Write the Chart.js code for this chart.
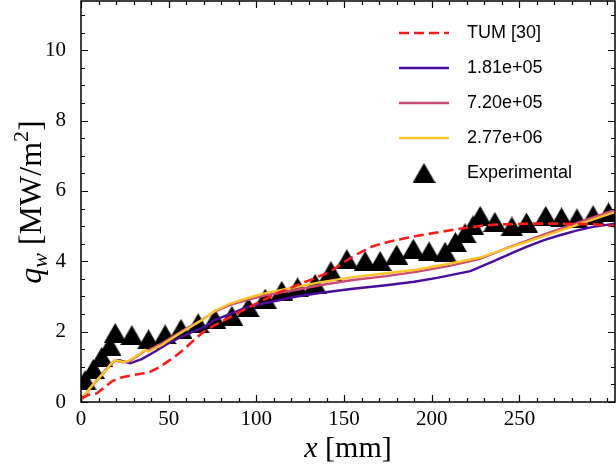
<!DOCTYPE html>
<html>
<head>
<meta charset="utf-8">
<script src="https://cdn.jsdelivr.net/npm/chart.js@4.4.0/dist/chart.umd.min.js"></script>
<style>
  html, body { margin: 0; padding: 0; background: #fff; }
</style>
</head>
<body>
<canvas id="myChart" width="616" height="467"></canvas>
<script>
// wall heat flux along x, TUM reference + 3 grid levels + experiment
const tumX = [0, 4, 9, 13, 17.5, 21, 25, 30, 35, 39.5, 45, 50, 54, 58, 62, 66, 70, 75, 80, 87, 94.5, 104, 113.5, 123, 132.5, 142, 150, 158, 166, 175, 184, 193.5, 203, 212.5, 222, 235, 254, 273, 292, 304.5];
const tumY = [0.1, 0.2, 0.25, 0.4, 0.58, 0.67, 0.72, 0.77, 0.81, 0.86, 1.0, 1.17, 1.31, 1.47, 1.65, 1.83, 2.0, 2.15, 2.28, 2.47, 2.66, 2.9, 3.12, 3.32, 3.5, 3.7, 3.98, 4.22, 4.42, 4.55, 4.65, 4.74, 4.82, 4.9, 4.97, 5.04, 5.07, 5.07, 5.05, 5.0];

const lowX = [0, 5, 10, 15.6, 19.4, 22, 28, 34.6, 42, 50, 57, 65, 71, 76, 85, 94.5, 104, 113.5, 123, 136, 155, 174, 190, 203, 222, 235, 245, 254, 264, 273, 283, 292, 304.5];
const lowY = [0.05, 0.38, 0.68, 1.0, 1.19, 1.19, 1.1, 1.22, 1.43, 1.67, 1.85, 2.02, 2.15, 2.33, 2.5, 2.7, 2.8, 2.9, 3.0, 3.1, 3.22, 3.32, 3.42, 3.53, 3.72, 4.0, 4.22, 4.41, 4.6, 4.74, 4.88, 4.98, 5.07];

const gridX = [0, 5, 11.8, 16.5, 19.4, 24, 27, 32.7, 36.5, 38.4, 46, 53.6, 61, 69, 76, 85, 94.5, 104, 113.5, 123, 136, 155, 174, 191, 210, 227, 245, 265, 285, 304.5];
const midY = [0.05, 0.38, 0.76, 1.04, 1.18, 1.13, 1.14, 1.32, 1.46, 1.47, 1.66, 1.9, 2.12, 2.34, 2.56, 2.76, 2.9, 3.02, 3.11, 3.19, 3.32, 3.47, 3.58, 3.7, 3.87, 4.06, 4.42, 4.78, 5.13, 5.46];
const highY = [0.05, 0.39, 0.77, 1.05, 1.19, 1.14, 1.17, 1.34, 1.48, 1.43, 1.62, 1.86, 2.09, 2.33, 2.58, 2.8, 2.95, 3.08, 3.18, 3.27, 3.4, 3.55, 3.66, 3.76, 3.93, 4.1, 4.4, 4.73, 5.07, 5.4];

const expX = [2.3, 7, 11.8, 16.5, 19.5, 29, 38.5, 48, 57, 66.8, 76.4, 86, 95.4, 105, 114.5, 123.5, 133.5, 142.5, 151.6, 162, 170.6, 180, 189.5, 198.5, 207.6, 213.5, 219, 223.5, 227.6, 236, 245.7, 254, 265, 274, 282.8, 292, 300.8];
const expY = [0.62, 0.94, 1.28, 1.6, 1.96, 1.9, 1.78, 1.92, 2.08, 2.24, 2.36, 2.45, 2.69, 2.94, 3.16, 3.26, 3.36, 3.72, 4.06, 4.01, 4.01, 4.19, 4.36, 4.28, 4.27, 4.55, 4.8, 5.02, 5.29, 5.12, 4.99, 5.1, 5.29, 5.25, 5.22, 5.31, 5.39];

const labels = ["TUM [30]", "1.81e+05", "7.20e+05", "2.77e+06", "Experimental"];
const xMajor = [0, 50, 100, 150, 200, 250];
const yMajor = [0, 2, 4, 6, 8, 10];

function pts(xs, ys) {
    return xs.map((x, i) => ({ x: x, y: ys[i] }));
}

// matplotlib style "^" marker, centred on the point
const tri = document.createElement("canvas");
tri.width = 23;
tri.height = 20;
const tc = tri.getContext("2d");
tc.fillStyle = "#000";
tc.beginPath();
tc.moveTo(11.5, 0);
tc.lineTo(23, 20);
tc.lineTo(0, 20);
tc.closePath();
tc.fill();

const serif = "'Liberation Serif', 'DejaVu Serif', serif";
const sans = "'Liberation Sans', 'DejaVu Sans', sans-serif";

// ticks pointing inwards on all four sides + the frame
const frameTicks = {
    id: "frameTicks",
    afterDraw(chart) {
        const ctx = chart.ctx;
        const a = chart.chartArea;
        const x = chart.scales.x;
        const y = chart.scales.y;
        ctx.save();
        ctx.strokeStyle = "#000";
        ctx.lineWidth = 1.2;
        ctx.beginPath();
        x.ticks.forEach(t => {
            if (Math.abs(t.value / 10 - Math.round(t.value / 10)) > 1e-6) return;
            const px = Math.round(x.getPixelForValue(t.value)) + 0.5;
            const len = xMajor.includes(t.value) ? 7 : 4;
            ctx.moveTo(px, a.bottom); ctx.lineTo(px, a.bottom - len);
            ctx.moveTo(px, a.top); ctx.lineTo(px, a.top + len);
        });
        y.ticks.forEach(t => {
            if (Math.abs(t.value * 2 - Math.round(t.value * 2)) > 1e-6) return;
            const py = Math.round(y.getPixelForValue(t.value)) + 0.5;
            const len = yMajor.includes(t.value) ? 7 : 4;
            ctx.moveTo(a.left, py); ctx.lineTo(a.left + len, py);
            ctx.moveTo(a.right, py); ctx.lineTo(a.right - len, py);
        });
        ctx.stroke();
        ctx.lineWidth = 1.5;
        ctx.strokeRect(a.left, a.top, a.right - a.left, a.bottom - a.top);
        ctx.restore();
    }
};

// axis titles with italic symbols, sub- and superscript
const axisTitles = {
    id: "axisTitles",
    afterDraw(chart) {
        const ctx = chart.ctx;
        const a = chart.chartArea;
        ctx.save();
        ctx.fillStyle = "#000";
        ctx.textBaseline = "alphabetic";

        // x [mm]
        let big = "30px " + serif;
        let bigI = "italic 30px " + serif;
        ctx.font = bigI;
        const w1 = ctx.measureText("x").width;
        ctx.font = big;
        const w2 = ctx.measureText(" [mm]").width;
        let sx = (a.left + a.right) / 2 - (w1 + w2) / 2;
        ctx.font = bigI;
        ctx.fillText("x", sx, 457);
        ctx.font = big;
        ctx.fillText(" [mm]", sx + w1, 457);

        // q_w [MW/m^2]
        big = "32px " + serif;
        bigI = "italic 32px " + serif;
        const small = "22px " + serif;
        const smallI = "italic 22px " + serif;
        const parts = [
            { t: "q", f: bigI, dy: 0 },
            { t: "w", f: smallI, dy: 6 },
            { t: " [MW/m", f: big, dy: 0 },
            { t: "2", f: small, dy: -13 },
            { t: "]", f: big, dy: 0 }
        ];
        let total = 0;
        parts.forEach(p => { ctx.font = p.f; p.w = ctx.measureText(p.t).width; total += p.w; });
        ctx.translate(41, 202);
        ctx.rotate(-Math.PI / 2);
        let cx = -total / 2;
        parts.forEach(p => {
            ctx.font = p.f;
            ctx.fillText(p.t, cx, p.dy);
            cx += p.w;
        });
        ctx.restore();
    }
};

// frameless legend in the upper right corner
const cornerLegend = {
    id: "cornerLegend",
    afterDraw(chart) {
        const ctx = chart.ctx;
        const ds = chart.data.datasets;
        ctx.save();
        ctx.font = "18px " + sans;
        ctx.textBaseline = "middle";
        ctx.fillStyle = "#000";
        ds.forEach((d, row) => {
            const yy = 33 + row * 35;
            if (d.showLine) {
                ctx.strokeStyle = d.borderColor;
                ctx.lineWidth = d.borderWidth;
                ctx.setLineDash(d.borderDash || []);
                ctx.beginPath();
                ctx.moveTo(399, yy);
                ctx.lineTo(449, yy);
                ctx.stroke();
                ctx.setLineDash([]);
            } else {
                ctx.drawImage(tri, 424 - tri.width / 2, yy - tri.height / 2);
            }
            ctx.fillText(d.label, 467, yy);
        });
        ctx.restore();
    }
};

const ctx = document.getElementById("myChart").getContext("2d");
const myChart = new Chart(ctx, {
    type: "scatter",
    data: {
        datasets: [
            {
                label: labels[0],
                data: pts(tumX, tumY),
                showLine: true,
                borderColor: "#ff1a1a",
                borderWidth: 2.6,
                borderDash: [10, 5],
                pointRadius: 0,
                order: 1
            },
            {
                label: labels[1],
                data: pts(lowX, lowY),
                showLine: true,
                borderColor: "#4a0c9e",
                borderWidth: 2.4,
                pointRadius: 0,
                order: 4
            },
            {
                label: labels[2],
                data: pts(gridX, midY),
                showLine: true,
                borderColor: "#cc4a78",
                borderWidth: 2.4,
                pointRadius: 0,
                order: 3
            },
            {
                label: labels[3],
                data: pts(gridX, highY),
                showLine: true,
                borderColor: "#fbc52a",
                borderWidth: 2.4,
                pointRadius: 0,
                order: 2
            },
            {
                label: labels[4],
                data: pts(expX, expY),
                showLine: false,
                pointStyle: tri,
                pointRadius: 11,
                order: 5
            }
        ]
    },
    options: {
        responsive: false,
        animation: false,
        devicePixelRatio: 1,
        layout: { autoPadding: false, padding: { top: 1, right: 1, left: 0, bottom: 0 } },
        plugins: {
            legend: { display: false },
            tooltip: { enabled: false }
        },
        scales: {
            x: {
                type: "linear",
                min: 0,
                max: 304.5,
                grid: { display: false, drawTicks: false },
                border: { display: false },
                afterFit: s => { s.height = 65; s.paddingLeft = 0; s.paddingRight = 0; },
                ticks: {
                    stepSize: 10,
                    includeBounds: false,
                    autoSkip: false,
                    maxRotation: 0,
                    padding: 5,
                    color: "#000",
                    font: { family: serif, size: 21 },
                    callback: v => (xMajor.includes(v) ? v : "")
                }
            },
            y: {
                type: "linear",
                min: 0,
                max: 11.4,
                grid: { display: false, drawTicks: false },
                border: { display: false },
                afterFit: s => { s.width = 81; s.paddingTop = 0; s.paddingBottom = 0; },
                ticks: {
                    stepSize: 0.5,
                    includeBounds: false,
                    autoSkip: false,
                    padding: 15,
                    color: "#000",
                    font: { family: serif, size: 21 },
                    callback: v => (yMajor.includes(v) ? v : "")
                }
            }
        }
    },
    plugins: [frameTicks, axisTitles, cornerLegend]
});
</script>
</body>
</html>
